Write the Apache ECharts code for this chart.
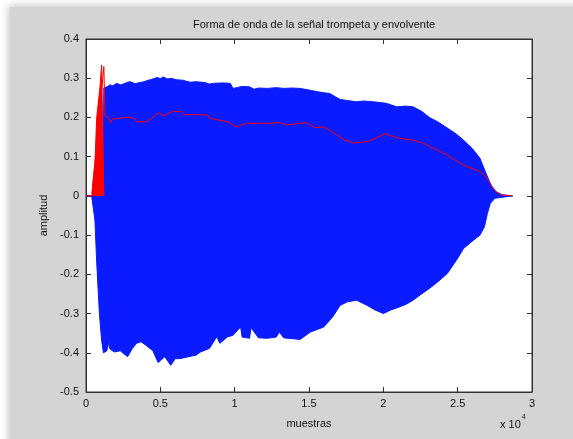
<!DOCTYPE html>
<html>
<head>
<meta charset="utf-8">
<script src="https://cdn.jsdelivr.net/npm/echarts@6/dist/echarts.min.js"></script>
<style>
html,body{margin:0;padding:0;background:#fff;}
#c{width:573px;height:439px;}
</style>
</head>
<body>
<div id="c"></div>
<script>
// ---- data (x in samples, y in amplitude) ----
const titleText = 'Forma de onda de la señal trompeta y envolvente';
const xTicks = [0, 5000, 10000, 15000, 20000, 25000, 30000];
const yTicks = [-0.5, -0.4, -0.3, -0.2, -0.1, 0, 0.1, 0.2, 0.3, 0.4];

// blue waveform: upper extent
const upperX = [0, 400, 700, 1150, 1200, 1280, 1450, 1600, 1800, 2070, 2300, 2500, 2800, 3000, 3300, 3500, 3900, 4200, 4400, 4800, 5000, 5200, 5500, 5700, 6100, 6500, 7000, 7400, 8000, 8300, 8600, 9200, 9700, 9900, 10500, 11000, 11300, 11600, 12200, 12800, 13300, 13900, 14400, 15000, 15500, 16000, 16400, 16800, 17100, 17600, 18200, 18700, 19300, 19800, 20200, 20900, 21500, 22000, 22600, 23100, 23700, 24300, 24900, 25400, 26000, 26500, 26900, 27300, 27600, 28000, 28700];
const upperY = [0, 0, 0.01, 0.01, 0.275, 0.272, 0.279, 0.283, 0.281, 0.287, 0.283, 0.285, 0.29, 0.291, 0.286, 0.288, 0.291, 0.295, 0.297, 0.302, 0.299, 0.303, 0.298, 0.30, 0.296, 0.295, 0.29, 0.291, 0.289, 0.285, 0.287, 0.288, 0.287, 0.274, 0.279, 0.278, 0.272, 0.275, 0.274, 0.276, 0.274, 0.275, 0.274, 0.27, 0.266, 0.263, 0.261, 0.252, 0.246, 0.243, 0.24, 0.242, 0.24, 0.238, 0.236, 0.227, 0.229, 0.227, 0.215, 0.20, 0.188, 0.173, 0.158, 0.142, 0.12, 0.096, 0.058, 0.023, 0.01, 0.003, 0];

// blue waveform: lower extent
const lowerX = [0, 380, 600, 720, 900, 1050, 1170, 1400, 1550, 1600, 1900, 2300, 2800, 3100, 3400, 3700, 4000, 4100, 4500, 4850, 5300, 5700, 6000, 6300, 6900, 7400, 7700, 8300, 8800, 9000, 9500, 9900, 10400, 10500, 11000, 11100, 11600, 12200, 12800, 13000, 13300, 13900, 14400, 15100, 15600, 16000, 16600, 17100, 17600, 18200, 18900, 19400, 20000, 20500, 21100, 21600, 22000, 22500, 23100, 23700, 24300, 24900, 25400, 26000, 26500, 26800, 27000, 27200, 27500, 28700];
const lowerY = [0, 0, -0.062, -0.17, -0.30, -0.368, -0.40, -0.395, -0.372, -0.39, -0.398, -0.395, -0.41, -0.39, -0.376, -0.372, -0.38, -0.385, -0.395, -0.425, -0.41, -0.432, -0.415, -0.415, -0.41, -0.406, -0.398, -0.389, -0.359, -0.376, -0.36, -0.355, -0.334, -0.36, -0.363, -0.336, -0.362, -0.363, -0.36, -0.347, -0.362, -0.364, -0.366, -0.347, -0.34, -0.334, -0.308, -0.279, -0.27, -0.266, -0.279, -0.29, -0.30, -0.291, -0.283, -0.275, -0.266, -0.252, -0.236, -0.218, -0.198, -0.165, -0.134, -0.115, -0.10, -0.079, -0.045, -0.019, -0.006, 0];

// red envelope: attack burst
const spikeX = [400, 500, 600, 720, 940, 1050, 1170, 1200];
const spikeY = [0.005, 0.05, 0.083, 0.2, 0.278, 0.334, 0.33, 0.0];

// red envelope line
const envX = [0, 400, 1200, 1280, 1500, 1660, 1800, 1950, 2600, 3000, 3300, 3400, 4100, 4900, 5200, 5800, 6400, 6600, 7400, 8200, 8300, 9500, 10100, 10800, 12200, 13000, 13500, 14400, 14800, 15400, 16000, 16900, 17300, 18000, 18900, 19300, 20100, 20700, 21100, 22000, 22700, 24300, 25400, 26500, 26900, 27300, 27600, 28000, 28700];
const envY = [0, 0, 0.33, 0.204, 0.2, 0.187, 0.198, 0.196, 0.2, 0.2, 0.196, 0.189, 0.189, 0.212, 0.204, 0.215, 0.215, 0.207, 0.207, 0.206, 0.198, 0.189, 0.176, 0.185, 0.185, 0.187, 0.181, 0.185, 0.187, 0.174, 0.176, 0.155, 0.144, 0.135, 0.138, 0.144, 0.158, 0.151, 0.147, 0.142, 0.134, 0.104, 0.078, 0.062, 0.049, 0.025, 0.01, 0.002, 0];

const zip = (xs, ys) => xs.map((x, i) => [x, ys[i]]);

const BLUE = '#0a1cff';
const RED = '#ff0000';
const AX = '#333333';
const FONT = 'Liberation Sans, Arial, sans-serif';

const chart = echarts.init(document.getElementById('c'), null, {renderer: 'canvas'});

const yFmt = v => { const r = Math.round(v * 10) / 10; return r === 0 ? '0' : String(r); };
const xFmt = v => String(Math.round(v / 1000) / 10);

const baseX = {
  type: 'value', min: xTicks[0], max: xTicks[xTicks.length - 1], interval: 5000,
  axisLine: {show: true, onZero: false, lineStyle: {color: AX, width: 1}},
  axisTick: {show: true, inside: true, length: 5, lineStyle: {color: AX}},
  splitLine: {show: false}
};
const baseY = {
  type: 'value', min: yTicks[0], max: yTicks[yTicks.length - 1], interval: 0.1,
  axisLine: {show: true, onZero: false, lineStyle: {color: AX, width: 1}},
  axisTick: {show: true, inside: true, length: 5, lineStyle: {color: AX}},
  splitLine: {show: false}
};

chart.setOption({
  animation: false,
  backgroundColor: '#ffffff',
  graphic: [
    {type: 'rect', z: -10, shape: {x: 10, y: 7, width: 580, height: 450},
     style: {fill: '#d4d4d4', shadowBlur: 8, shadowColor: 'rgba(0,0,0,0.25)', shadowOffsetX: -1, shadowOffsetY: -1}},
    {type: 'text', left: 500, top: 414, z: 10,
     style: {text: '{a|x 10}{b|4}', rich: {
       a: {fontSize: 11, fontFamily: FONT, fill: '#111', verticalAlign: 'bottom', lineHeight: 16},
       b: {fontSize: 7, fontFamily: FONT, fill: '#111', verticalAlign: 'top', lineHeight: 16, padding: [0, 0, 8, 1]}
     }}}
  ],
  title: {
    text: titleText, left: 309, top: 14, textAlign: 'center',
    textStyle: {fontSize: 11, fontWeight: 'normal', color: '#111', fontFamily: FONT}
  },
  grid: {left: 86, top: 39, right: 41, bottom: 47, show: true, backgroundColor: '#ffffff', borderColor: AX, borderWidth: 1},
  xAxis: [
    Object.assign({}, baseX, {
      position: 'bottom', name: 'muestras', nameLocation: 'middle', nameGap: 26,
      nameTextStyle: {fontSize: 11, color: '#111', fontFamily: FONT},
      axisLabel: {show: true, margin: 6, fontSize: 11, color: '#111', fontFamily: FONT, formatter: xFmt}
    }),
    Object.assign({}, baseX, {position: 'top', axisLabel: {show: false}})
  ],
  yAxis: [
    Object.assign({}, baseY, {
      position: 'left', name: 'amplitud', nameLocation: 'middle', nameGap: 37,
      nameTextStyle: {fontSize: 11, color: '#111', fontFamily: FONT},
      axisLabel: {show: true, margin: 7, fontSize: 11, color: '#111', fontFamily: FONT, formatter: yFmt}
    }),
    Object.assign({}, baseY, {position: 'right', axisLabel: {show: false}})
  ],
  series: [
    {type: 'line', data: zip(upperX, upperY), showSymbol: false, symbol: 'none',
     lineStyle: {color: BLUE, width: 1}, areaStyle: {color: BLUE, opacity: 1, origin: 0}, z: 2},
    {type: 'line', data: zip(lowerX, lowerY), showSymbol: false, symbol: 'none',
     lineStyle: {color: BLUE, width: 1}, areaStyle: {color: BLUE, opacity: 1, origin: 0}, z: 2},
    {type: 'line', data: zip(spikeX, spikeY), showSymbol: false, symbol: 'none',
     lineStyle: {color: RED, width: 1}, areaStyle: {color: RED, opacity: 1, origin: 0}, z: 3},
    {type: 'line', data: zip(envX, envY), showSymbol: false, symbol: 'none',
     lineStyle: {color: RED, width: 1}, z: 4}
  ]
});
</script>
</body>
</html>
